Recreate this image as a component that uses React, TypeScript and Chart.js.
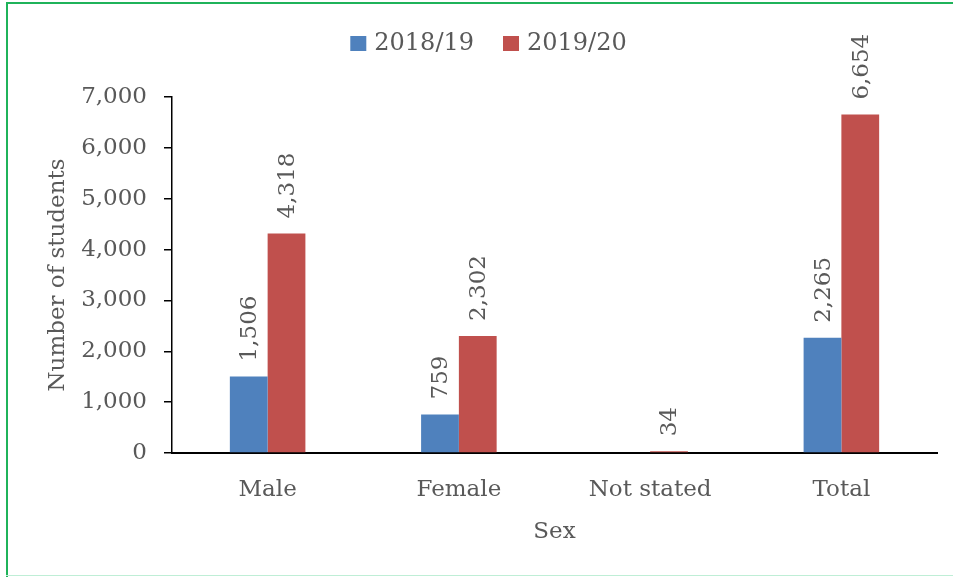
import { useEffect, useRef } from "react";
import { Chart, registerables } from "chart.js";

Chart.register(...registerables);

const categories = ["Male", "Female", "Not stated", "Total"];
const seriesNames = ["2018/19", "2019/20"];
const values2018 = [1506, 759, 0, 2265];
const values2019 = [4318, 2302, 34, 6654];
const seriesColors = ["#4f81bd", "#c0504d"];
const yMin = 0;
const yMax = 7000;
const yStep = 1000;
const xTitle = "Sex";
const yTitle = "Number of students";

const FONT = '"DejaVu Serif", serif';
const TEXT = "#595959";

const fmt = (v: number) => v.toLocaleString("en-US");

const framePlugin = {
  id: "frame",
  beforeDraw(chart: any) {
    const ctx = chart.ctx;
    ctx.save();
    ctx.fillStyle = "#ffffff";
    ctx.fillRect(0, 0, chart.width, chart.height);
    ctx.fillStyle = "#1fb35a";
    ctx.fillRect(6, 2, 2, chart.height - 2);
    ctx.fillRect(6, 2, chart.width - 6, 2);
    ctx.fillStyle = "#bfeed6";
    ctx.fillRect(6, chart.height - 2, chart.width - 6, 1);
    ctx.restore();
  },
};

const legendPlugin = {
  id: "customLegend",
  afterDraw(chart: any) {
    const ctx = chart.ctx;
    ctx.save();
    ctx.font = `24px ${FONT}`;
    const box = 16;
    const gap = 8;
    const itemGap = 29;
    const items = chart.data.datasets.map((ds: any) => ({
      text: ds.label,
      color: ds.backgroundColor,
      w: ctx.measureText(ds.label).width,
    }));
    const total = items.reduce(
      (s: number, it: any, i: number) => s + box + gap + it.w + (i ? itemGap : 0),
      0
    );
    let x = 488.5 - total / 2;
    const cy = 43.5;
    items.forEach((it: any, i: number) => {
      if (i) x += itemGap;
      ctx.fillStyle = it.color;
      ctx.fillRect(x, cy - 7.5, box, 15);
      x += box + gap;
      ctx.fillStyle = TEXT;
      ctx.textAlign = "left";
      ctx.textBaseline = "middle";
      ctx.fillText(it.text, x, cy);
      x += it.w;
    });
    ctx.restore();
  },
};

const valueLabelPlugin = {
  id: "valueLabels",
  afterDatasetsDraw(chart: any) {
    const ctx = chart.ctx;
    ctx.save();
    ctx.font = `23px ${FONT}`;
    ctx.fillStyle = TEXT;
    chart.data.datasets.forEach((ds: any, di: number) => {
      const meta = chart.getDatasetMeta(di);
      meta.data.forEach((el: any, i: number) => {
        const v = ds.data[i];
        if (!v) return;
        ctx.save();
        ctx.translate(el.x + 1.5, el.y - 15);
        ctx.rotate(-Math.PI / 2);
        ctx.textAlign = "left";
        ctx.textBaseline = "middle";
        ctx.fillText(fmt(v), 0, 0);
        ctx.restore();
      });
    });
    ctx.restore();
  },
};

export default function App() {
  const ref = useRef<HTMLCanvasElement | null>(null);

  useEffect(() => {
    if (!ref.current) return;
    const chart = new Chart(ref.current, {
      type: "bar",
      data: {
        labels: categories,
        datasets: [
          {
            label: seriesNames[0],
            data: values2018,
            backgroundColor: seriesColors[0],
            categoryPercentage: 0.395,
            barPercentage: 1,
          },
          {
            label: seriesNames[1],
            data: values2019,
            backgroundColor: seriesColors[1],
            categoryPercentage: 0.395,
            barPercentage: 1,
          },
        ],
      },
      options: {
        responsive: false,
        animation: false,
        devicePixelRatio: 1,
        layout: { padding: { left: 10, right: 16, top: 97, bottom: 0 } },
        plugins: {
          legend: { display: false },
          tooltip: { enabled: false },
        },
        scales: {
          x: {
            afterFit: (s: any) => {
              s.height = 124;
            },
            grid: { display: true, drawOnChartArea: false, drawTicks: false },
            border: { display: true, color: "#000000", width: 2 },
            ticks: {
              color: TEXT,
              font: { family: FONT, size: 23 },
              padding: 23,
            },
            title: {
              display: true,
              text: xTitle,
              color: TEXT,
              font: { family: FONT, size: 23 },
              padding: { top: 0, bottom: 31 },
            },
          },
          y: {
            min: yMin,
            max: yMax,
            afterFit: (s: any) => {
              s.width = 162;
            },
            grid: {
              display: true,
              drawOnChartArea: false,
              drawTicks: true,
              tickLength: 8,
              color: "#000000",
              lineWidth: 1.5,
            },
            border: { display: true, color: "#000000", width: 1.5 },
            ticks: {
              stepSize: yStep,
              color: TEXT,
              font: { family: FONT, size: 23 },
              padding: 17,
              callback: (v: any) => fmt(Number(v)),
            },
            title: {
              display: true,
              text: yTitle,
              color: TEXT,
              font: { family: FONT, size: 23 },
              padding: { top: 34, bottom: 0 },
            },
          },
        },
      },
      plugins: [framePlugin, legendPlugin, valueLabelPlugin],
    });
    return () => chart.destroy();
  }, []);

  return (
    <div style={{ position: "absolute", left: 0, top: 0, width: 953, height: 577 }}>
      <canvas ref={ref} width={953} height={577} />
    </div>
  );
}
